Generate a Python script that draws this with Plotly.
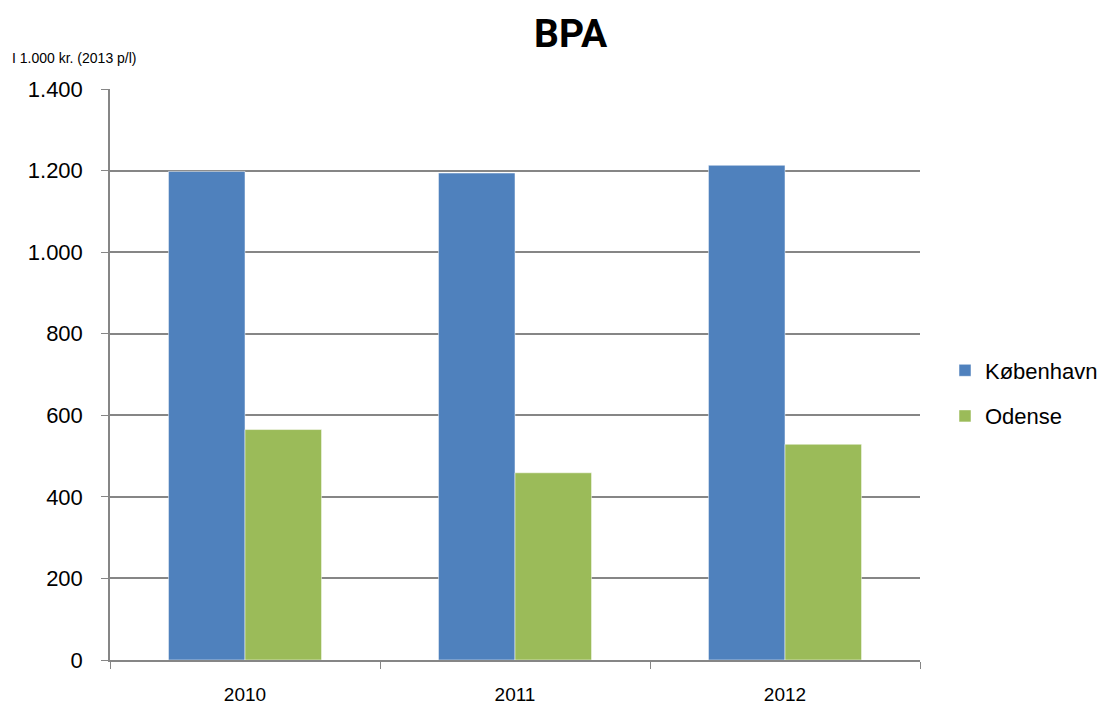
import plotly.graph_objects as go

years = ["2010", "2011", "2012"]
kobenhavn = [1198, 1194, 1213]
odense = [565, 459, 529]
series_names = ["København", "Odense"]
colors = ["#4F81BD", "#9BBB59"]
y_ticks = [0, 200, 400, 600, 800, 1000, 1200, 1400]

# page plot area (the html body adds an 8px margin)
PX0, PX1, PY0, PY1 = 110, 920, 89, 660
def px(x):
    return (x - PX0) / (PX1 - PX0)
def py(y):
    return (PY1 - y) / (PY1 - PY0)

fig = go.Figure()
for name, vals, col in zip(series_names, [kobenhavn, odense], colors):
    fig.add_trace(go.Bar(x=years, y=vals, name=name, legendgroup=name,
                         marker=dict(color=col, line=dict(color="rgba(255,255,255,0.5)", width=1))))

fig.update_layout(
    width=1101, height=699,
    margin=dict(l=102, r=189, t=81, b=47, autoexpand=False),
    paper_bgcolor="white", plot_bgcolor="white",
    barmode="group", bargap=0.433, bargroupgap=0,
    separators=",.",
    font=dict(family="Liberation Sans, Arial, sans-serif", color="black"),
    showlegend=True,
    legend=dict(x=px(945), y=py(393.5), xanchor="left", yanchor="middle",
                font=dict(size=22), tracegroupgap=14, traceorder="grouped"),
    annotations=[
        dict(text="<b>BPA</b>", x=px(571), y=py(9), xref="paper", yref="paper",
             xanchor="center", yanchor="top", showarrow=False,
             font=dict(size=39, family="Roboto, Liberation Sans, sans-serif")),
        dict(text="I 1.000 kr. (2013 p/l)", x=px(10), y=py(58), xref="paper", yref="paper",
             xanchor="left", yanchor="middle", showarrow=False, font=dict(size=14)),
    ],
)

fig.update_xaxes(showline=True, linecolor="#868686", linewidth=1.5,
                 ticks="outside", tickson="boundaries", ticklen=7, tickcolor="#868686",
                 tickfont=dict(size=19), ticklabelstandoff=16, showgrid=False)
fig.update_yaxes(range=[0, 1400], tickvals=y_ticks, tickformat=",d",
                 showline=True, linecolor="#868686", linewidth=1.5,
                 ticks="outside", ticklen=7, tickcolor="#868686",
                 showgrid=True, gridcolor="#868686", gridwidth=1.5,
                 tickfont=dict(size=22), ticklabelstandoff=14, zeroline=False)

fig.write_html("out.html")
